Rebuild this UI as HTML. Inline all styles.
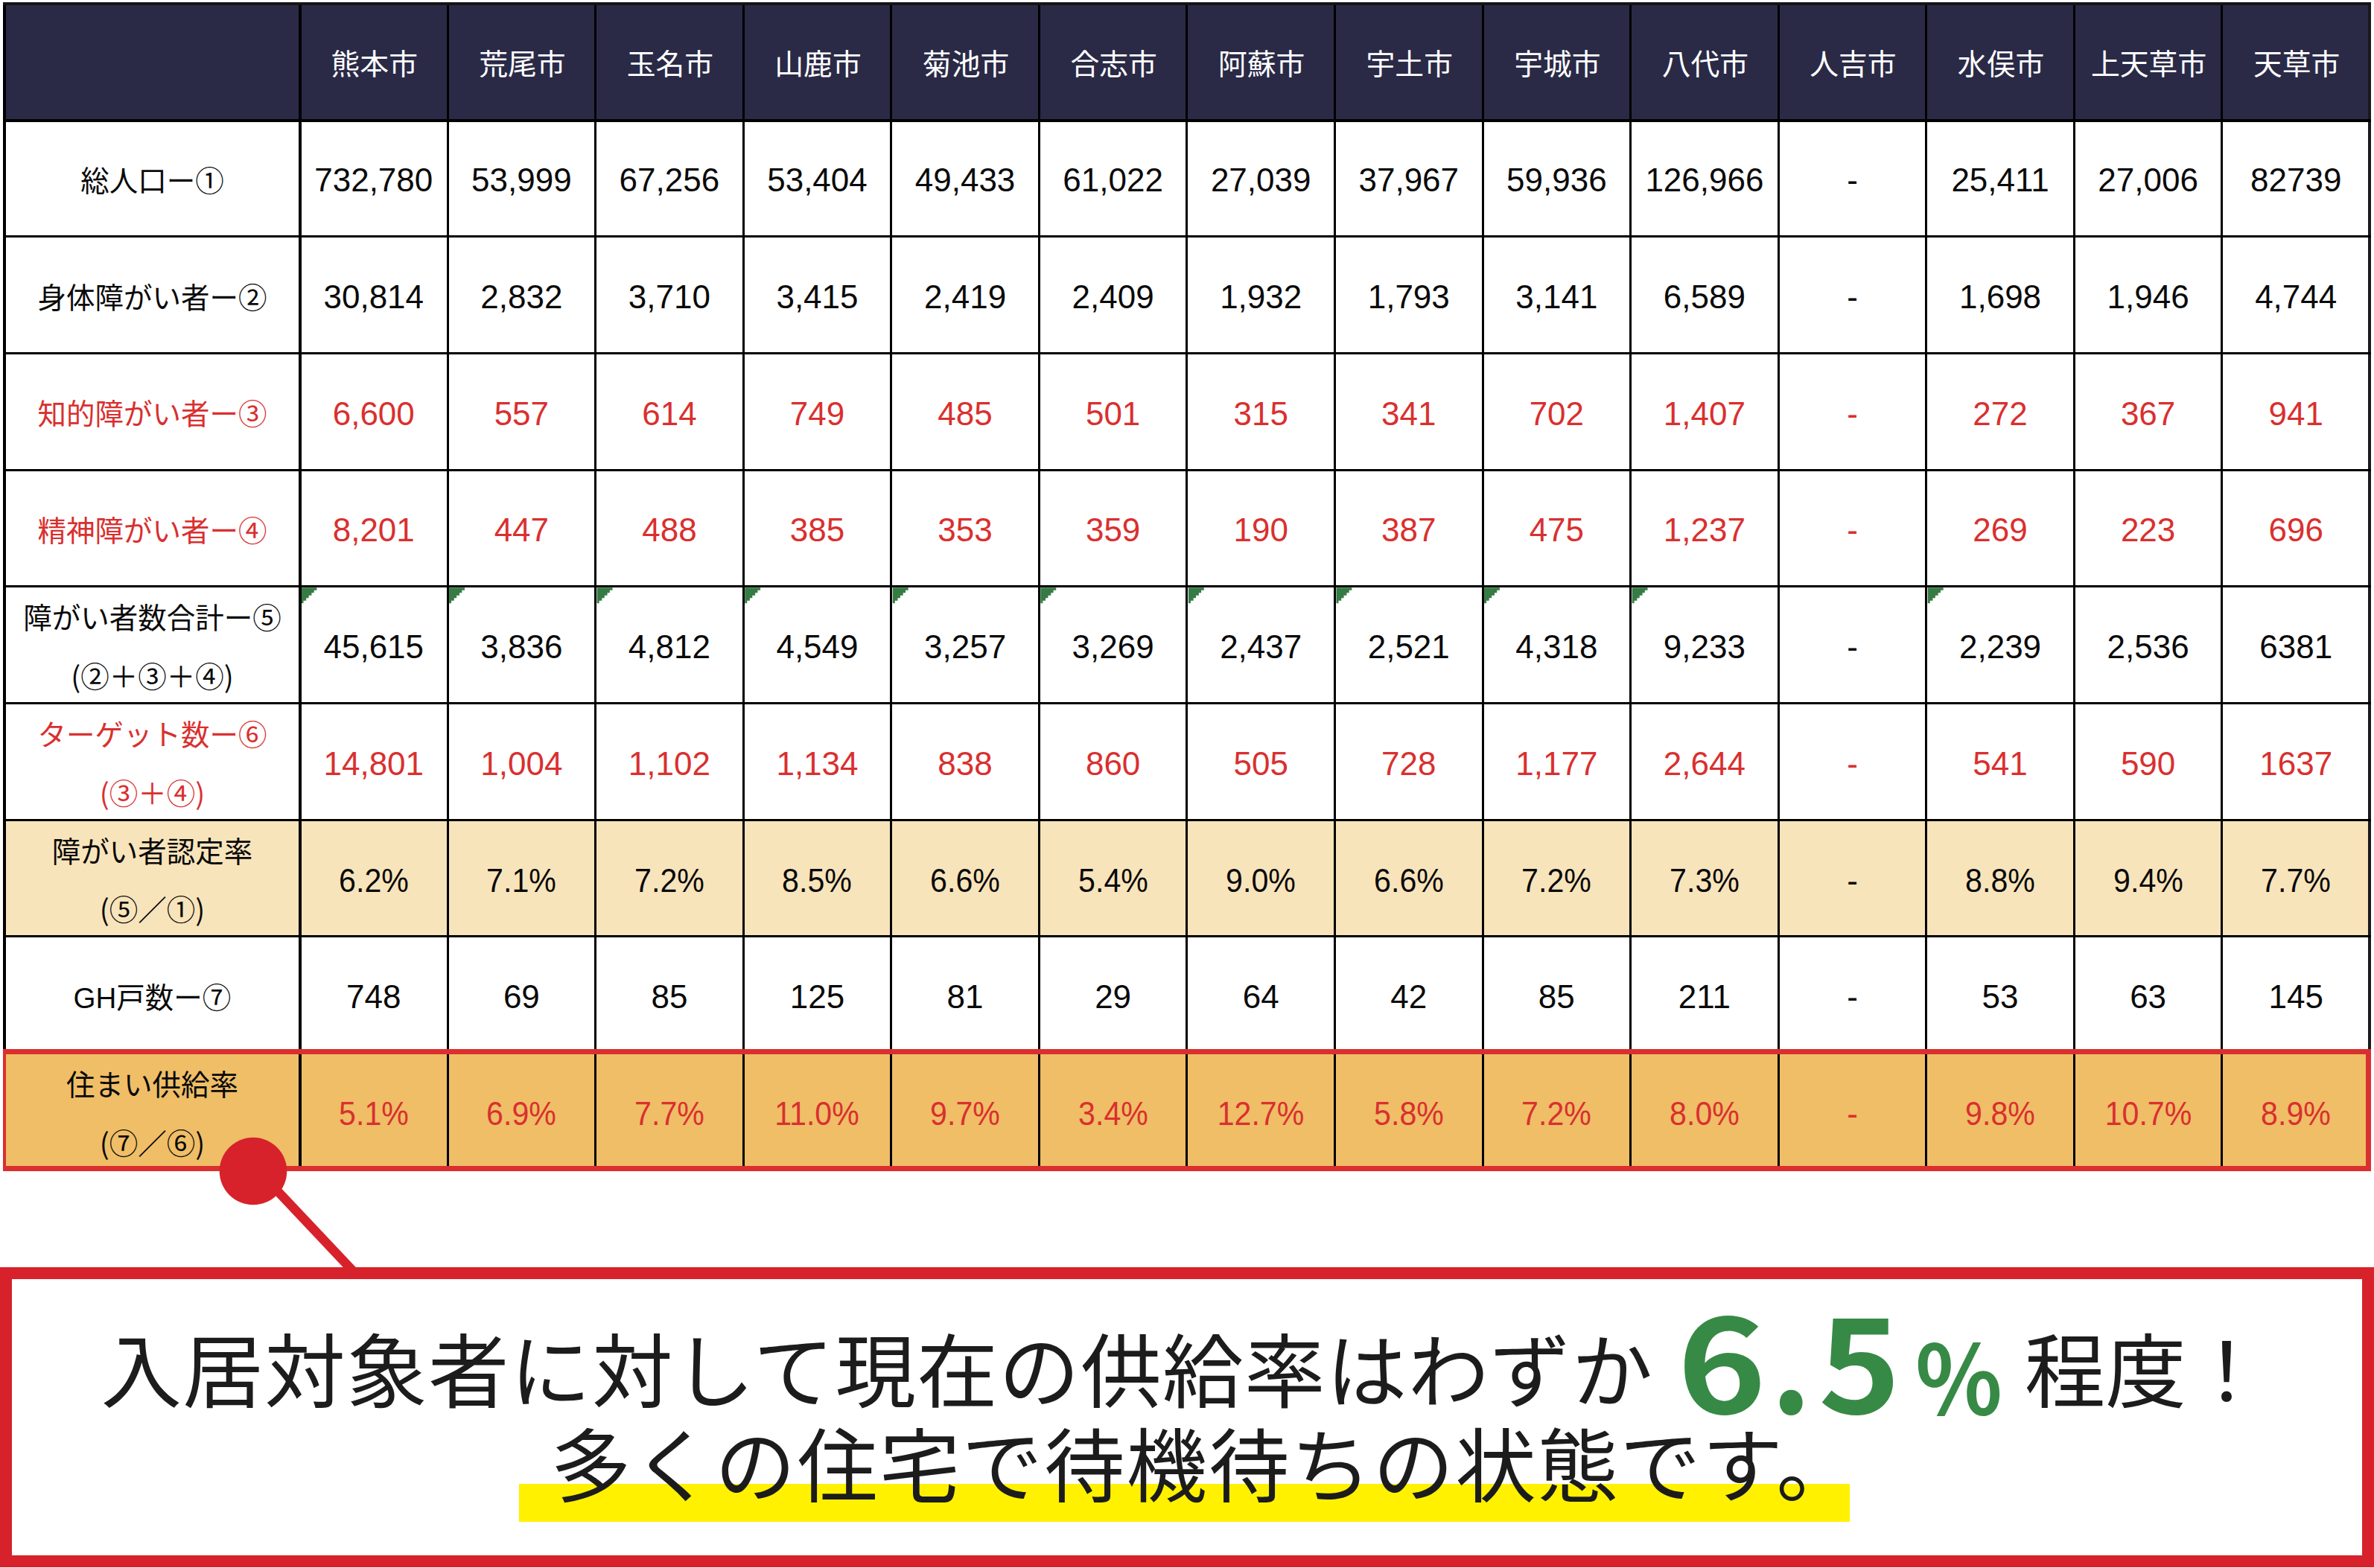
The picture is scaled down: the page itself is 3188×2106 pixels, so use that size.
<!DOCTYPE html><html lang="ja"><head><meta charset="utf-8"><title>熊本県 障がい者住まい供給率</title><style>
*{margin:0;padding:0;box-sizing:border-box}
html,body{width:3188px;height:2106px;background:#fff;overflow:hidden}
body{position:relative;font-family:"Liberation Sans","Noto Sans CJK JP",sans-serif}
.a{position:absolute}
.l{position:absolute;background:#000}
.t{position:absolute;white-space:nowrap;text-align:center;line-height:1}
.hd{color:#fff;font-size:38.8px;font-family:"Noto Sans CJK JP",sans-serif}
.lb{font-size:38.5px;font-family:"Noto Sans CJK JP",sans-serif}.lat{font-family:"Liberation Sans",sans-serif}
.nm{font-size:44px;font-family:"Liberation Sans","Noto Sans CJK JP",sans-serif}
.k{color:#0a0a0a}.r{color:#d9302f}
.big{position:absolute;white-space:nowrap;line-height:1;font-family:"Noto Sans CJK JP",sans-serif;color:#1c1c1c;font-size:108.5px}
.g{position:absolute;white-space:nowrap;line-height:1;font-family:"Noto Sans CJK JP",sans-serif;font-weight:bold;color:#378a46;transform-origin:0 0}
</style></head><body>
<div class="a" style="left:4px;top:3px;width:3180px;height:158.5px;background:#2a2a47"></div>
<div class="a" style="left:4px;top:1099.7px;width:3180px;height:159.7px;background:#f8e4bb"></div>
<div class="a" style="left:4px;top:1413.1px;width:3180px;height:159.7px;background:#efbe67"></div>
<svg class="a" style="left:0;top:0" width="3188" height="1000" fill="#357b43"><polygon points="404.5,789.3 425.4,789.3 425.4,792.65 421.7,792.65 421.7,796.16 418.4,796.16 418.4,799.66 414.6,799.66 414.6,803.33 411.2,803.33 411.2,806.68 407.5,806.68 407.5,810.35 404.5,810.35"/><polygon points="603.07,789.3 623.97,789.3 623.97,792.65 620.27,792.65 620.27,796.16 616.97,796.16 616.97,799.66 613.17,799.66 613.17,803.33 609.77,803.33 609.77,806.68 606.07,806.68 606.07,810.35 603.07,810.35"/><polygon points="801.64,789.3 822.54,789.3 822.54,792.65 818.84,792.65 818.84,796.16 815.54,796.16 815.54,799.66 811.74,799.66 811.74,803.33 808.34,803.33 808.34,806.68 804.64,806.68 804.64,810.35 801.64,810.35"/><polygon points="1000.21,789.3 1021.11,789.3 1021.11,792.65 1017.41,792.65 1017.41,796.16 1014.11,796.16 1014.11,799.66 1010.31,799.66 1010.31,803.33 1006.91,803.33 1006.91,806.68 1003.21,806.68 1003.21,810.35 1000.21,810.35"/><polygon points="1198.78,789.3 1219.68,789.3 1219.68,792.65 1215.98,792.65 1215.98,796.16 1212.68,796.16 1212.68,799.66 1208.88,799.66 1208.88,803.33 1205.48,803.33 1205.48,806.68 1201.78,806.68 1201.78,810.35 1198.78,810.35"/><polygon points="1397.35,789.3 1418.25,789.3 1418.25,792.65 1414.55,792.65 1414.55,796.16 1411.25,796.16 1411.25,799.66 1407.45,799.66 1407.45,803.33 1404.05,803.33 1404.05,806.68 1400.35,806.68 1400.35,810.35 1397.35,810.35"/><polygon points="1595.92,789.3 1616.82,789.3 1616.82,792.65 1613.12,792.65 1613.12,796.16 1609.82,796.16 1609.82,799.66 1606.02,799.66 1606.02,803.33 1602.62,803.33 1602.62,806.68 1598.92,806.68 1598.92,810.35 1595.92,810.35"/><polygon points="1794.49,789.3 1815.39,789.3 1815.39,792.65 1811.69,792.65 1811.69,796.16 1808.39,796.16 1808.39,799.66 1804.59,799.66 1804.59,803.33 1801.19,803.33 1801.19,806.68 1797.49,806.68 1797.49,810.35 1794.49,810.35"/><polygon points="1993.06,789.3 2013.96,789.3 2013.96,792.65 2010.26,792.65 2010.26,796.16 2006.96,796.16 2006.96,799.66 2003.16,799.66 2003.16,803.33 1999.76,803.33 1999.76,806.68 1996.06,806.68 1996.06,810.35 1993.06,810.35"/><polygon points="2191.63,789.3 2212.53,789.3 2212.53,792.65 2208.83,792.65 2208.83,796.16 2205.53,796.16 2205.53,799.66 2201.73,799.66 2201.73,803.33 2198.33,803.33 2198.33,806.68 2194.63,806.68 2194.63,810.35 2191.63,810.35"/><polygon points="2588.77,789.3 2609.67,789.3 2609.67,792.65 2605.97,792.65 2605.97,796.16 2602.67,796.16 2602.67,799.66 2598.87,799.66 2598.87,803.33 2595.47,803.33 2595.47,806.68 2591.77,806.68 2591.77,810.35 2588.77,810.35"/></svg>
<div class="l" style="left:401.0px;top:3px;width:4px;height:1569.8px"></div>
<div class="l" style="left:599.57px;top:3px;width:3px;height:1569.8px"></div>
<div class="l" style="left:798.14px;top:3px;width:3px;height:1569.8px"></div>
<div class="l" style="left:996.71px;top:3px;width:3px;height:1569.8px"></div>
<div class="l" style="left:1195.28px;top:3px;width:3px;height:1569.8px"></div>
<div class="l" style="left:1393.85px;top:3px;width:3px;height:1569.8px"></div>
<div class="l" style="left:1592.42px;top:3px;width:3px;height:1569.8px"></div>
<div class="l" style="left:1790.99px;top:3px;width:3px;height:1569.8px"></div>
<div class="l" style="left:1989.56px;top:3px;width:3px;height:1569.8px"></div>
<div class="l" style="left:2188.13px;top:3px;width:3px;height:1569.8px"></div>
<div class="l" style="left:2386.7px;top:3px;width:3px;height:1569.8px"></div>
<div class="l" style="left:2585.27px;top:3px;width:3px;height:1569.8px"></div>
<div class="l" style="left:2783.84px;top:3px;width:3px;height:1569.8px"></div>
<div class="l" style="left:2982.41px;top:3px;width:3px;height:1569.8px"></div>
<div class="l" style="left:3180.98px;top:3px;width:3px;height:1569.8px"></div>
<div class="l" style="left:4px;top:3px;width:4px;height:1569.8px"></div>
<div class="l" style="left:3180px;top:3px;width:4px;height:1569.8px;background:#1a1a1a"></div>
<div class="l" style="left:4px;top:3px;width:3180px;height:4px;background:#151515"></div>
<div class="l" style="left:4px;top:159.5px;width:3180px;height:4px"></div>
<div class="l" style="left:4px;top:316.2px;width:3180px;height:3px"></div>
<div class="l" style="left:4px;top:472.9px;width:3180px;height:3px"></div>
<div class="l" style="left:4px;top:629.6px;width:3180px;height:3px"></div>
<div class="l" style="left:4px;top:786.3px;width:3180px;height:3px"></div>
<div class="l" style="left:4px;top:943.0px;width:3180px;height:3px"></div>
<div class="l" style="left:4px;top:1099.7px;width:3180px;height:3px"></div>
<div class="l" style="left:4px;top:1256.4px;width:3180px;height:3px"></div>
<div class="l" style="left:4px;top:1413.1px;width:3180px;height:3px"></div>
<div class="l" style="left:4px;top:1569.8px;width:3180px;height:3px"></div>
<div class="a" style="left:4px;top:1409px;width:3180px;height:164px;border:7px solid #db2f2f;border-left-width:4px"></div>
<div class="t hd" style="left:402.78px;top:64.06px;width:200px">熊本市</div>
<div class="t hd" style="left:601.36px;top:64.06px;width:200px">荒尾市</div>
<div class="t hd" style="left:799.92px;top:64.06px;width:200px">玉名市</div>
<div class="t hd" style="left:998.49px;top:64.06px;width:200px">山鹿市</div>
<div class="t hd" style="left:1197.07px;top:64.06px;width:200px">菊池市</div>
<div class="t hd" style="left:1395.63px;top:64.06px;width:200px">合志市</div>
<div class="t hd" style="left:1594.2px;top:64.06px;width:200px">阿蘇市</div>
<div class="t hd" style="left:1792.78px;top:64.06px;width:200px">宇土市</div>
<div class="t hd" style="left:1991.35px;top:64.06px;width:200px">宇城市</div>
<div class="t hd" style="left:2189.91px;top:64.06px;width:200px">八代市</div>
<div class="t hd" style="left:2388.48px;top:64.06px;width:200px">人吉市</div>
<div class="t hd" style="left:2587.06px;top:64.06px;width:200px">水俣市</div>
<div class="t hd" style="left:2785.62px;top:64.06px;width:200px">上天草市</div>
<div class="t hd" style="left:2984.19px;top:64.06px;width:200px">天草市</div>
<div class="t lb k" style="left:9.5px;top:220.97px;width:390px">総人口ー①</div>
<div class="t nm k" style="left:406.78px;top:220.35px;width:190px">732,780</div>
<div class="t nm k" style="left:605.36px;top:220.35px;width:190px">53,999</div>
<div class="t nm k" style="left:803.92px;top:220.35px;width:190px">67,256</div>
<div class="t nm k" style="left:1002.49px;top:220.35px;width:190px">53,404</div>
<div class="t nm k" style="left:1201.07px;top:220.35px;width:190px">49,433</div>
<div class="t nm k" style="left:1399.63px;top:220.35px;width:190px">61,022</div>
<div class="t nm k" style="left:1598.2px;top:220.35px;width:190px">27,039</div>
<div class="t nm k" style="left:1796.78px;top:220.35px;width:190px">37,967</div>
<div class="t nm k" style="left:1995.35px;top:220.35px;width:190px">59,936</div>
<div class="t nm k" style="left:2193.91px;top:220.35px;width:190px">126,966</div>
<div class="t nm k" style="left:2392.48px;top:220.35px;width:190px">-</div>
<div class="t nm k" style="left:2591.06px;top:220.35px;width:190px">25,411</div>
<div class="t nm k" style="left:2789.62px;top:220.35px;width:190px">27,006</div>
<div class="t nm k" style="left:2988.19px;top:220.35px;width:190px">82739</div>
<div class="t lb k" style="left:9.5px;top:377.67px;width:390px">身体障がい者ー②</div>
<div class="t nm k" style="left:406.78px;top:377.05px;width:190px">30,814</div>
<div class="t nm k" style="left:605.36px;top:377.05px;width:190px">2,832</div>
<div class="t nm k" style="left:803.92px;top:377.05px;width:190px">3,710</div>
<div class="t nm k" style="left:1002.49px;top:377.05px;width:190px">3,415</div>
<div class="t nm k" style="left:1201.07px;top:377.05px;width:190px">2,419</div>
<div class="t nm k" style="left:1399.63px;top:377.05px;width:190px">2,409</div>
<div class="t nm k" style="left:1598.2px;top:377.05px;width:190px">1,932</div>
<div class="t nm k" style="left:1796.78px;top:377.05px;width:190px">1,793</div>
<div class="t nm k" style="left:1995.35px;top:377.05px;width:190px">3,141</div>
<div class="t nm k" style="left:2193.91px;top:377.05px;width:190px">6,589</div>
<div class="t nm k" style="left:2392.48px;top:377.05px;width:190px">-</div>
<div class="t nm k" style="left:2591.06px;top:377.05px;width:190px">1,698</div>
<div class="t nm k" style="left:2789.62px;top:377.05px;width:190px">1,946</div>
<div class="t nm k" style="left:2988.19px;top:377.05px;width:190px">4,744</div>
<div class="t lb r" style="left:9.5px;top:534.38px;width:390px">知的障がい者ー③</div>
<div class="t nm r" style="left:406.78px;top:533.75px;width:190px">6,600</div>
<div class="t nm r" style="left:605.36px;top:533.75px;width:190px">557</div>
<div class="t nm r" style="left:803.92px;top:533.75px;width:190px">614</div>
<div class="t nm r" style="left:1002.49px;top:533.75px;width:190px">749</div>
<div class="t nm r" style="left:1201.07px;top:533.75px;width:190px">485</div>
<div class="t nm r" style="left:1399.63px;top:533.75px;width:190px">501</div>
<div class="t nm r" style="left:1598.2px;top:533.75px;width:190px">315</div>
<div class="t nm r" style="left:1796.78px;top:533.75px;width:190px">341</div>
<div class="t nm r" style="left:1995.35px;top:533.75px;width:190px">702</div>
<div class="t nm r" style="left:2193.91px;top:533.75px;width:190px">1,407</div>
<div class="t nm r" style="left:2392.48px;top:533.75px;width:190px">-</div>
<div class="t nm r" style="left:2591.06px;top:533.75px;width:190px">272</div>
<div class="t nm r" style="left:2789.62px;top:533.75px;width:190px">367</div>
<div class="t nm r" style="left:2988.19px;top:533.75px;width:190px">941</div>
<div class="t lb r" style="left:9.5px;top:691.07px;width:390px">精神障がい者ー④</div>
<div class="t nm r" style="left:406.78px;top:690.45px;width:190px">8,201</div>
<div class="t nm r" style="left:605.36px;top:690.45px;width:190px">447</div>
<div class="t nm r" style="left:803.92px;top:690.45px;width:190px">488</div>
<div class="t nm r" style="left:1002.49px;top:690.45px;width:190px">385</div>
<div class="t nm r" style="left:1201.07px;top:690.45px;width:190px">353</div>
<div class="t nm r" style="left:1399.63px;top:690.45px;width:190px">359</div>
<div class="t nm r" style="left:1598.2px;top:690.45px;width:190px">190</div>
<div class="t nm r" style="left:1796.78px;top:690.45px;width:190px">387</div>
<div class="t nm r" style="left:1995.35px;top:690.45px;width:190px">475</div>
<div class="t nm r" style="left:2193.91px;top:690.45px;width:190px">1,237</div>
<div class="t nm r" style="left:2392.48px;top:690.45px;width:190px">-</div>
<div class="t nm r" style="left:2591.06px;top:690.45px;width:190px">269</div>
<div class="t nm r" style="left:2789.62px;top:690.45px;width:190px">223</div>
<div class="t nm r" style="left:2988.19px;top:690.45px;width:190px">696</div>
<div class="t lb k" style="left:9.5px;top:808.48px;width:390px">障がい者数合計ー⑤</div>
<div class="t lb k" style="left:9.5px;top:887.05px;width:390px">(②＋③＋④)</div>
<div class="t nm k" style="left:406.78px;top:847.15px;width:190px">45,615</div>
<div class="t nm k" style="left:605.36px;top:847.15px;width:190px">3,836</div>
<div class="t nm k" style="left:803.92px;top:847.15px;width:190px">4,812</div>
<div class="t nm k" style="left:1002.49px;top:847.15px;width:190px">4,549</div>
<div class="t nm k" style="left:1201.07px;top:847.15px;width:190px">3,257</div>
<div class="t nm k" style="left:1399.63px;top:847.15px;width:190px">3,269</div>
<div class="t nm k" style="left:1598.2px;top:847.15px;width:190px">2,437</div>
<div class="t nm k" style="left:1796.78px;top:847.15px;width:190px">2,521</div>
<div class="t nm k" style="left:1995.35px;top:847.15px;width:190px">4,318</div>
<div class="t nm k" style="left:2193.91px;top:847.15px;width:190px">9,233</div>
<div class="t nm k" style="left:2392.48px;top:847.15px;width:190px">-</div>
<div class="t nm k" style="left:2591.06px;top:847.15px;width:190px">2,239</div>
<div class="t nm k" style="left:2789.62px;top:847.15px;width:190px">2,536</div>
<div class="t nm k" style="left:2988.19px;top:847.15px;width:190px">6381</div>
<div class="t lb r" style="left:9.5px;top:965.17px;width:390px">ターゲット数ー⑥</div>
<div class="t lb r" style="left:9.5px;top:1043.75px;width:390px">(③＋④)</div>
<div class="t nm r" style="left:406.78px;top:1003.85px;width:190px">14,801</div>
<div class="t nm r" style="left:605.36px;top:1003.85px;width:190px">1,004</div>
<div class="t nm r" style="left:803.92px;top:1003.85px;width:190px">1,102</div>
<div class="t nm r" style="left:1002.49px;top:1003.85px;width:190px">1,134</div>
<div class="t nm r" style="left:1201.07px;top:1003.85px;width:190px">838</div>
<div class="t nm r" style="left:1399.63px;top:1003.85px;width:190px">860</div>
<div class="t nm r" style="left:1598.2px;top:1003.85px;width:190px">505</div>
<div class="t nm r" style="left:1796.78px;top:1003.85px;width:190px">728</div>
<div class="t nm r" style="left:1995.35px;top:1003.85px;width:190px">1,177</div>
<div class="t nm r" style="left:2193.91px;top:1003.85px;width:190px">2,644</div>
<div class="t nm r" style="left:2392.48px;top:1003.85px;width:190px">-</div>
<div class="t nm r" style="left:2591.06px;top:1003.85px;width:190px">541</div>
<div class="t nm r" style="left:2789.62px;top:1003.85px;width:190px">590</div>
<div class="t nm r" style="left:2988.19px;top:1003.85px;width:190px">1637</div>
<div class="t lb k" style="left:9.5px;top:1121.87px;width:390px">障がい者認定率</div>
<div class="t lb k" style="left:9.5px;top:1200.45px;width:390px">(⑤／①)</div>
<div class="t nm k" style="left:406.78px;top:1160.55px;width:190px;transform:scaleX(0.935)">6.2%</div>
<div class="t nm k" style="left:605.36px;top:1160.55px;width:190px;transform:scaleX(0.935)">7.1%</div>
<div class="t nm k" style="left:803.92px;top:1160.55px;width:190px;transform:scaleX(0.935)">7.2%</div>
<div class="t nm k" style="left:1002.49px;top:1160.55px;width:190px;transform:scaleX(0.935)">8.5%</div>
<div class="t nm k" style="left:1201.07px;top:1160.55px;width:190px;transform:scaleX(0.935)">6.6%</div>
<div class="t nm k" style="left:1399.63px;top:1160.55px;width:190px;transform:scaleX(0.935)">5.4%</div>
<div class="t nm k" style="left:1598.2px;top:1160.55px;width:190px;transform:scaleX(0.935)">9.0%</div>
<div class="t nm k" style="left:1796.78px;top:1160.55px;width:190px;transform:scaleX(0.935)">6.6%</div>
<div class="t nm k" style="left:1995.35px;top:1160.55px;width:190px;transform:scaleX(0.935)">7.2%</div>
<div class="t nm k" style="left:2193.91px;top:1160.55px;width:190px;transform:scaleX(0.935)">7.3%</div>
<div class="t nm k" style="left:2392.48px;top:1160.55px;width:190px">-</div>
<div class="t nm k" style="left:2591.06px;top:1160.55px;width:190px;transform:scaleX(0.935)">8.8%</div>
<div class="t nm k" style="left:2789.62px;top:1160.55px;width:190px;transform:scaleX(0.935)">9.4%</div>
<div class="t nm k" style="left:2988.19px;top:1160.55px;width:190px;transform:scaleX(0.935)">7.7%</div>
<div class="t lb k" style="left:9.5px;top:1317.88px;width:390px"><span class="lat">GH</span>戸数ー⑦</div>
<div class="t nm k" style="left:406.78px;top:1317.25px;width:190px">748</div>
<div class="t nm k" style="left:605.36px;top:1317.25px;width:190px">69</div>
<div class="t nm k" style="left:803.92px;top:1317.25px;width:190px">85</div>
<div class="t nm k" style="left:1002.49px;top:1317.25px;width:190px">125</div>
<div class="t nm k" style="left:1201.07px;top:1317.25px;width:190px">81</div>
<div class="t nm k" style="left:1399.63px;top:1317.25px;width:190px">29</div>
<div class="t nm k" style="left:1598.2px;top:1317.25px;width:190px">64</div>
<div class="t nm k" style="left:1796.78px;top:1317.25px;width:190px">42</div>
<div class="t nm k" style="left:1995.35px;top:1317.25px;width:190px">85</div>
<div class="t nm k" style="left:2193.91px;top:1317.25px;width:190px">211</div>
<div class="t nm k" style="left:2392.48px;top:1317.25px;width:190px">-</div>
<div class="t nm k" style="left:2591.06px;top:1317.25px;width:190px">53</div>
<div class="t nm k" style="left:2789.62px;top:1317.25px;width:190px">63</div>
<div class="t nm k" style="left:2988.19px;top:1317.25px;width:190px">145</div>
<div class="t lb k" style="left:9.5px;top:1435.27px;width:390px">住まい供給率</div>
<div class="t lb k" style="left:9.5px;top:1513.85px;width:390px">(⑦／⑥)</div>
<div class="t nm r" style="left:406.78px;top:1473.95px;width:190px;transform:scaleX(0.935)">5.1%</div>
<div class="t nm r" style="left:605.36px;top:1473.95px;width:190px;transform:scaleX(0.935)">6.9%</div>
<div class="t nm r" style="left:803.92px;top:1473.95px;width:190px;transform:scaleX(0.935)">7.7%</div>
<div class="t nm r" style="left:1002.49px;top:1473.95px;width:190px;transform:scaleX(0.935)">11.0%</div>
<div class="t nm r" style="left:1201.07px;top:1473.95px;width:190px;transform:scaleX(0.935)">9.7%</div>
<div class="t nm r" style="left:1399.63px;top:1473.95px;width:190px;transform:scaleX(0.935)">3.4%</div>
<div class="t nm r" style="left:1598.2px;top:1473.95px;width:190px;transform:scaleX(0.935)">12.7%</div>
<div class="t nm r" style="left:1796.78px;top:1473.95px;width:190px;transform:scaleX(0.935)">5.8%</div>
<div class="t nm r" style="left:1995.35px;top:1473.95px;width:190px;transform:scaleX(0.935)">7.2%</div>
<div class="t nm r" style="left:2193.91px;top:1473.95px;width:190px;transform:scaleX(0.935)">8.0%</div>
<div class="t nm r" style="left:2392.48px;top:1473.95px;width:190px">-</div>
<div class="t nm r" style="left:2591.06px;top:1473.95px;width:190px;transform:scaleX(0.935)">9.8%</div>
<div class="t nm r" style="left:2789.62px;top:1473.95px;width:190px;transform:scaleX(0.935)">10.7%</div>
<div class="t nm r" style="left:2988.19px;top:1473.95px;width:190px;transform:scaleX(0.935)">8.9%</div>
<svg class="a" style="left:0;top:0" width="3188" height="2106" viewBox="0 0 3188 2106">
<line x1="347.5" y1="1573" x2="477.7" y2="1711" stroke="#d7222b" stroke-width="12.5"/>
<circle cx="340" cy="1573" r="45.3" fill="#d7222b"/>
</svg>
<div class="a" style="left:0;top:1702px;width:3188px;height:403px;border:16px solid #d7222b;background:#fff"></div>
<div class="a" style="left:697px;top:1993px;width:1787px;height:51px;background:#fff100"></div>
<div class="big" style="left:135.4px;top:1780.8px;letter-spacing:1.42px">入居対象者に対して現在の供給率はわずか</div>
<div class="big" style="left:2718.7px;top:1780.8px">程度！</div>
<div class="big" style="left:739.15px;top:1907.9px;letter-spacing:1.97px">多くの住宅で待機待ちの状態です。</div>
<div class="g" style="left:2252.3px;top:1736.4px;font-size:174.5px;transform:scaleX(1.166)">6</div>
<div class="g" style="left:2378.3px;top:1732.6px;font-size:177.9px;transform:scaleX(0.942)">.</div>
<div class="g" style="left:2442.3px;top:1736.6px;font-size:173.3px;transform:scaleX(1.079)">5</div>
<div class="g" style="left:2572.25px;top:1779.96px;font-size:128.05px;transform:scaleX(0.9497)">%</div>
</body></html>
